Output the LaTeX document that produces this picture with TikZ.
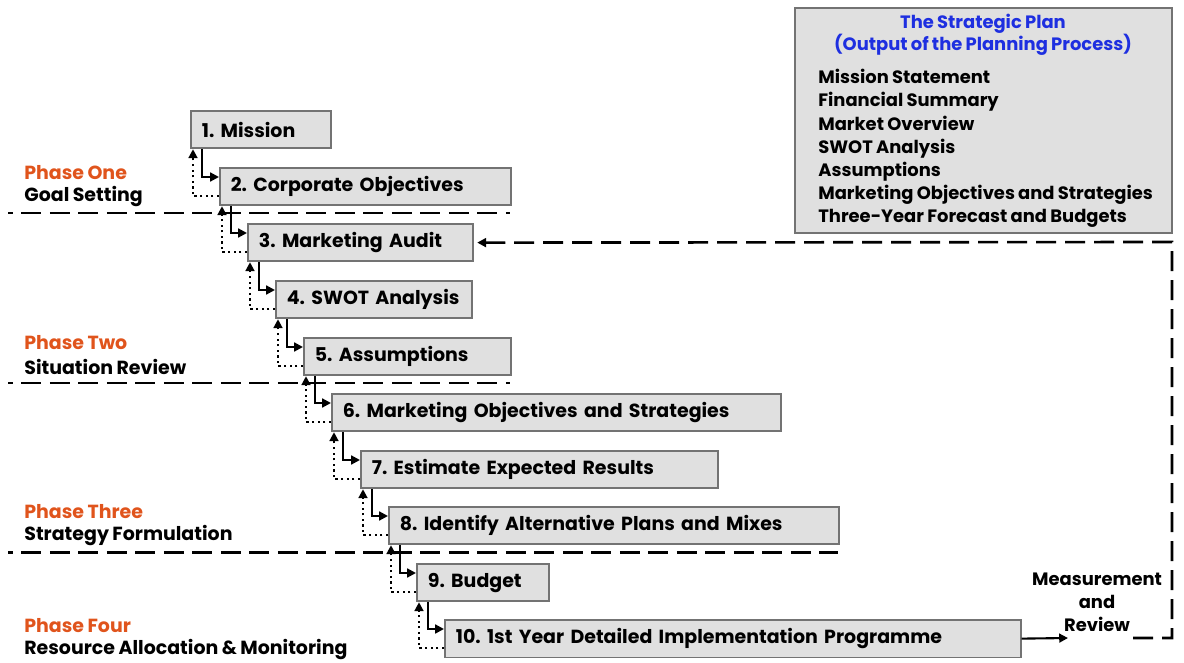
\documentclass[tikz,border=0pt]{standalone}
\usepackage{fontspec}
\setmainfont{Poppins}[WordSpace=0.85]
\frenchspacing
\usetikzlibrary{arrows.meta}
\definecolor{boxfill}{HTML}{E0E0E0}
\definecolor{boxline}{HTML}{737373}
\definecolor{phaseorange}{HTML}{E0541C}
\definecolor{planblue}{HTML}{1E2FE0}
\tikzset{
  stage/.style={draw=boxline, fill=boxfill, line width=1pt, anchor=north west,
    minimum height=0.75cm, inner xsep=0.22cm, align=left, font=\bfseries\fontsize{10.8}{12}\selectfont,
    execute at begin node=\hbox\bgroup, execute at end node=\egroup},
  phasename/.style={anchor=west, inner sep=0pt, text=phaseorange, font=\bfseries\fontsize{10.8}{12}\selectfont},
  phasetext/.style={anchor=west, inner sep=0pt, font=\bfseries\fontsize{10.8}{12}\selectfont},
  divider/.style={line width=1.7pt, dash pattern=on 0.4cm off 0.17cm, dash phase=0.3cm},
  fwd/.style={-{Triangle[length=5pt,width=5pt]}, line width=1.2pt},
  back/.style={-{Triangle[length=5pt,width=5pt]}, line width=1.2pt, dotted},
  feedback/.style={-{Triangle[length=5pt,width=5pt]}, line width=1.5pt, dash pattern=on 0.4cm off 0.18cm}
}
\begin{document}
\begin{tikzpicture}[x=0.02cm,y=-0.02cm]
\useasboundingbox (0,0) rectangle (1184,663);

%strategic plan box
\node [draw=boxline, fill=boxfill, line width=1pt, minimum width=7.54cm, minimum height=4.5cm] (plan) at (983.5,120.5) {};
\node [text=planblue, align=center, font=\bfseries\fontsize{10.2}{12.5}\selectfont] (plantitle) at (983,35) {The Strategic Plan\\(Output of the Planning Process)};
\node [anchor=north west, inner sep=0pt, align=left, font=\bfseries\fontsize{10.2}{13.2}\selectfont] (planlist) at (818,69)
  {Mission Statement\\Financial Summary\\Market Overview\\SWOT Analysis\\Assumptions\\Marketing Objectives and Strategies\\Three-Year Forecast and Budgets};

%planning steps
\node [stage, text width=2.36cm] (s1) at (190,110) {1. Mission};
\node [stage, text width=5.38cm] (s2) at (219,167) {2. Corporate Objectives};
\node [stage, text width=4.06cm] (s3) at (247,223) {3. Marketing Audit};
\node [stage, text width=3.48cm] (s4) at (275,280) {4. SWOT Analysis};
\node [stage, text width=3.70cm] (s5) at (303,337) {5. Assumptions};
\node [stage, text width=8.54cm] (s6) at (331,393) {6. Marketing Objectives and Strategies};
\node [stage, text width=6.70cm] (s7) at (360,450) {7. Estimate Expected Results};
\node [stage, text width=8.56cm] (s8) at (388,506) {8. Identify Alternative Plans and Mixes};
\node [stage, text width=2.20cm] (s9) at (416,563) {9. Budget};
\node [stage, text width=11.08cm] (s10) at (444,619) {10. 1st Year Detailed Implementation Programme};

%phases
\node [phasename] (p1) at (24,173) {Phase One};
\node [phasetext] (p1t) at (24,197) {Goal Setting};
\node [phasename] (p2) at (24,343) {Phase Two};
\node [phasetext] (p2t) at (24,367) {Situation Review};
\node [phasename] (p3) at (24,512) {Phase Three};
\node [phasetext] (p3t) at (24,536) {Strategy Formulation};
\node [phasename] (p4) at (24,626) {Phase Four};
\node [phasetext] (p4t) at (24,650) {Resource Allocation \& Monitoring};

\draw[divider] (8,213) -- (510,213);
\draw[divider] (8,383) -- (510,383);
\draw[divider] (8,552) -- (838,552);

%step connectors
\foreach \a/\b in {s1/s2,s2/s3,s3/s4,s4/s5,s5/s6,s6/s7,s7/s8,s8/s9,s9/s10} {
  \draw[fwd] ([xshift=0.24cm]\a.south west) |- ([yshift=-0.2cm]\b.north west);
  \draw[back] ([yshift=0.2cm]\b.south west) -| ([xshift=0.06cm]\a.south west);
}

%measurement and review loop
\coordinate (mr) at (1068,638);
\coordinate (rb) at (1133,638);
\coordinate (fb) at (1172,242);
\draw[fwd] (s10.east) -- (mr);
\node [align=center, font=\bfseries\fontsize{10.2}{13}\selectfont] (review) at (1097,602) {Measurement\\and\\Review};
\draw[feedback, shorten >=2pt] (rb) -| (fb) -- (s3.east);
\end{tikzpicture}
\end{document}
